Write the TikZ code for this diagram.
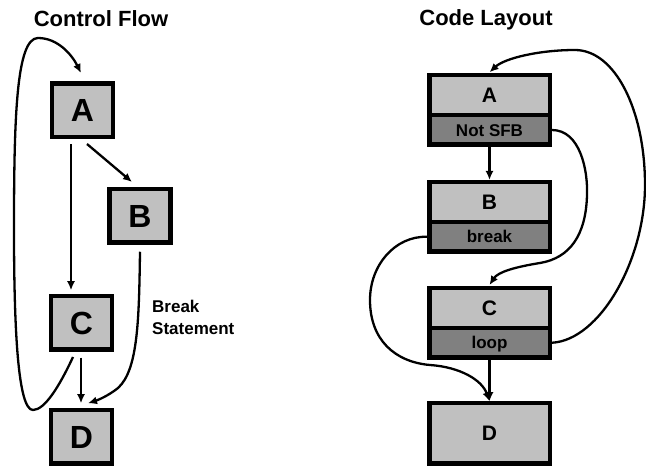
\documentclass[tikz,border=0pt]{standalone}
\usepackage{fontspec}
\setmainfont{Liberation Sans}
\usetikzlibrary{arrows.meta,calc}
\definecolor{lgray}{HTML}{C0C0C0}
\definecolor{dgray}{HTML}{808080}
\begin{document}
\begin{tikzpicture}[x=1pt,y=-1pt,
  box/.style={draw=black, line width=4.5pt, inner sep=0pt, outer sep=0pt, text depth=0pt},
  lbox/.style={box, fill=lgray, minimum width=61pt, minimum height=53.5pt, text height=23pt, font=\bfseries\fontsize{32}{32}\selectfont},
  cltop/.style={box, fill=lgray, minimum width=120.5pt, minimum height=40pt, text height=15pt, font=\bfseries\fontsize{21}{21}\selectfont},
  clbot/.style={box, fill=dgray, minimum width=120.5pt, minimum height=29.5pt, text height=12.2pt, font=\bfseries\fontsize{17}{17}\selectfont, anchor=north},
  cllone/.style={box, fill=lgray, minimum width=120.5pt, minimum height=60.5pt, text height=15pt, font=\bfseries\fontsize{21}{21}\selectfont},
  title/.style={font=\bfseries\fontsize{22}{22}\selectfont, inner sep=0pt},
  arr/.style={line width=2.3pt, -{Latex[length=9pt,width=8pt]}}
]
\useasboundingbox (0,0) rectangle (646,470);

% titles
\node[title] (t1) at (101,19) {Control Flow};
\node[title] (t2) at (486,20) {Code Layout};

% ---------- control flow ----------
\node[lbox] (A) at (82.5,110.5) {A};
\node[lbox] (B) at (140,216) {B};
\node[lbox] (C) at (81.5,323) {C};
\node[lbox] (D) at (81.5,437) {D};

\node[anchor=west, align=left, inner sep=0pt, font=\bfseries\fontsize{17}{22}\selectfont] (bs) at (152,317.5) {Break\\Statement};

\draw[arr] ($(A.south)+(-11.5,7)$) -- ($(C.north)+(-10.5,-6)$);
\draw[arr] ($(A.south)+(4.5,6.75)$) -- ($(B.north)+(-8,-7.25)$);
\draw[arr] ($(C.south)+(-0.5,8)$) -- ($(D.north)+(-0.5,-7)$);
\draw[arr] ($(B.south)+(0,9)$) .. controls (139,320) and (138,370) .. (118,388)
   .. controls (108,396) and (98,400) .. ($(D.north)+(6.5,-7)$);
\draw[arr] ($(C.south)+(-8.5,7.25)$) .. controls (60,385) and (45,410) .. (33,410)
   .. controls (18,410) and (14,330) .. (14,230)
   .. controls (14,120) and (16,38) .. (38,38)
   .. controls (58,38) and (72,55) .. ($(A.north)+(-1.5,-10.75)$);

% ---------- code layout ----------
\node[cltop] (RA) at (489.5,95.25) {A};
\node[clbot] (RAb) at (RA.south) {Not SFB};
\node[cltop] (RB) at (489.5,202) {B};
\node[clbot] (RBb) at (RB.south) {break};
\node[cltop] (RC) at (489.5,308) {C};
\node[clbot] (RCb) at (RC.south) {loop};
\node[cllone] (RD) at (489.5,433.5) {D};

\draw[arr] ($(RAb.south)+(0,2.25)$) -- ($(RB.north)+(0,-2)$);
\draw[arr] ($(RCb.south)+(0,2.25)$) -- ($(RD.north)+(0,-2)$);

\draw[arr] ($(RAb.east)+(2.25,0)$) .. controls (580,130) and (588,170) .. (587,195)
   .. controls (586,235) and (570,258) .. (540,263)
   .. controls (515,267) and (498,272) .. ($(RC.north)+(0,-3)$);
\draw[arr] ($(RCb.east)+(2.25,0)$) .. controls (600,340) and (645,260) .. (645,185)
   .. controls (645,110) and (615,50) .. (575,50)
   .. controls (540,50) and (505,58) .. ($(RA.north)+(0,-3)$);
\draw[arr] ($(RBb.west)+(-2.25,0)$) .. controls (395,236) and (370,265) .. (370,300)
   .. controls (370,340) and (395,362) .. (430,365)
   .. controls (460,367) and (482,380) .. ($(RD.north)+(0,-2)$);
\end{tikzpicture}
\end{document}
